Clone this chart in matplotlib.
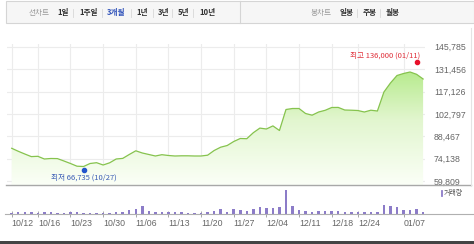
import matplotlib
matplotlib.use("Agg")
import matplotlib.pyplot as plt
from matplotlib.lines import Line2D
from matplotlib.patches import Rectangle
import numpy as np

# 종가 (3개월, 일봉)
close = [80800, 78900, 77150, 75480, 75670, 73950, 74270, 74200, 72670, 71070,
         69340, 69150, 71070, 71580, 70110, 71520, 73950, 74330, 76830, 79190,
         77790, 76830, 75870, 76700, 76190, 75870, 75990, 75990, 75870, 75870,
         76380, 79380, 81500, 82580, 85140, 87060, 86930, 90770, 93710, 93140,
         95120, 92180, 105610, 106250, 106250, 103050, 101970, 104010, 105100, 106890,
         106950, 105290, 105160, 104970, 104010, 105160, 104650, 116800, 122560, 127360,
         128640, 129600, 128130, 125120]

# 거래량 (상대값)
volume = [10, 20, 25, 20, 10, 20, 20, 10, 10, 20,
          20, 15, 15, 15, 10, 15, 20, 20, 40, 50,
          85, 35, 25, 25, 20, 20, 20, 15, 10, 15,
          20, 35, 55, 20, 55, 40, 35, 55, 70, 65,
          65, 70, 240, 85, 45, 30, 25, 30, 30, 30,
          30, 25, 20, 25, 20, 25, 20, 95, 80, 70,
          40, 40, 50, 25]

tick_pos = [0, 4, 9, 14, 19, 24, 29, 34, 39, 44, 49, 53, 60]
tick_labels = ['10/12', '10/16', '10/23', '10/30', '11/06', '11/13', '11/20',
               '11/27', '12/04', '12/11', '12/18', '12/24', '01/07']

y_ticks = [59809, 74138, 88467, 102797, 117126, 131456, 145785]

low_idx, low_val, low_text = 11, 66735, '최저 66,735 (10/27)'
high_idx, high_val, high_text = 62, 136000, '최고 136,000 (01/11)'

W, H = 474, 244
NUM_FONT = ['Liberation Sans Narrow', 'Liberation Sans', 'DejaVu Sans']
KR_FONT = ['Noto Sans CJK KR', 'DejaVu Sans']


def fx(x):
    return x / W


def fy(y):
    return 1 - y / H


fig = plt.figure(figsize=(W / 100, H / 100), dpi=100)
fig.patch.set_facecolor('white')

# ---- 상단 탭 바 ----
fig.patches.append(Rectangle((fx(6), fy(22.5)), fx(474 - 6), (21.5) / H,
                             transform=fig.transFigure, facecolor='#f6f6f6',
                             edgecolor='#d5d5d5', lw=0.8))
fig.lines.append(Line2D([fx(239.5)] * 2, [fy(1), fy(22.5)], transform=fig.transFigure,
                        color='#d5d5d5', lw=0.8))

tabs = [('선차트', 29, '#9a9a9a', 'normal'), ('1일', 57, '#333333', 'bold'),
        ('1주일', 79, '#333333', 'bold'), ('3개월', 107, '#3355bb', 'bold'),
        ('1년', 136, '#333333', 'bold'), ('3년', 158, '#333333', 'bold'),
        ('5년', 178, '#333333', 'bold'), ('10년', 199, '#333333', 'bold'),
        ('봉차트', 311, '#9a9a9a', 'normal'), ('일봉', 340, '#333333', 'bold'),
        ('주봉', 363, '#333333', 'bold'), ('월봉', 386, '#333333', 'bold')]
for txt, x, c, w in tabs:
    fig.text(fx(x), fy(12.5), txt, family=KR_FONT, fontsize=5.5, color=c,
             fontweight=w, ha='left', va='center')
for x in [73, 102, 131, 153, 172, 193, 357, 380]:
    fig.lines.append(Line2D([fx(x)] * 2, [fy(9), fy(16.5)], transform=fig.transFigure,
                            color='#d8d8d8', lw=0.6))

# ---- 가격 차트 ----
x = np.arange(len(close))
ax = fig.add_axes([fx(7), fy(185), (425 - 7) / W, (185 - 44) / H])
ax.set_xlim(-0.72, 63.29)
ax.set_ylim(57315, 147512)

grad = np.linspace(1, 0, 256).reshape(-1, 1)
cmap = matplotlib.colors.LinearSegmentedColormap.from_list(
    'g', ['#fbfff7', '#e2f6cf', '#a9e778'])
img = ax.imshow(grad[::-1], cmap=cmap, aspect='auto',
                extent=[-0.72, 63.29, 57315, 140000], origin='lower', zorder=1)
poly = ax.fill_between(x, close, 57315, color='none', lw=0)
img.set_clip_path(poly.get_paths()[0], transform=ax.transData)
ax.plot(x, close, color='#86c34e', lw=0.9, zorder=3)

ax.set_yticks(y_ticks)
ax.set_yticklabels([f'{v:,}' for v in y_ticks])
ax.yaxis.tick_right()
ax.set_xticks(tick_pos)
ax.set_xticklabels([])
ax.tick_params(length=0)
ax.tick_params(axis='y', pad=6.5, labelsize=6.3, labelcolor='#666666')
for lab in ax.get_yticklabels():
    lab.set_family(NUM_FONT)
ax.grid(True, color='#ececec', lw=0.8, zorder=0)
ax.set_axisbelow(True)
for s in ax.spines.values():
    s.set_visible(False)

# 최저 / 최고 표시
ax.plot([low_idx], [low_val], 'o', color='#2255cc', ms=3, zorder=4, clip_on=False)
ax.text(low_idx + 0.1, low_val - 4750, low_text, family=KR_FONT, fontsize=5.5,
        color='#3a5db5', ha='center', va='center')
ax.plot([high_idx], [high_val], 'o', color='#e8102a', ms=3, zorder=4, clip_on=False)
ax.text(high_idx + 0.5, high_val + 4300, high_text, family=KR_FONT, fontsize=5.5,
        color='#e0303a', ha='right', va='center')

fig.lines.append(Line2D([fx(6), fx(471)], [fy(185.3)] * 2, transform=fig.transFigure,
                        color='#a8a8a8', lw=1.0))
fig.lines.append(Line2D([fx(471)] * 2, [fy(28), fy(186)], transform=fig.transFigure,
                        color='#e4e4e4', lw=0.8))

# ---- 거래량 ----
vax = fig.add_axes([fx(7), fy(214.3), (425 - 7) / W, 25.3 / H])
vax.set_xlim(-0.72, 63.29)
vax.set_ylim(0, max(volume) * 25.3 / 24)
vax.bar(x, volume, width=0.38, color='#8c7cc8', zorder=2)
vax.set_yticks([])
vax.set_xticks(tick_pos)
vax.set_xticklabels(tick_labels)
vax.tick_params(axis='x', length=4, direction='inout', color='#999999', width=0.6,
                pad=1.5, labelsize=6.3, labelcolor='#666666')
for lab in vax.get_xticklabels():
    lab.set_family(NUM_FONT)
    lab.set_ha('left')
for s in vax.spines.values():
    s.set_visible(False)
fig.lines.append(Line2D([fx(5), fx(474)], [fy(214.3)] * 2, transform=fig.transFigure,
                        color='#b0b0b0', lw=0.8))

# 거래량 범례
fig.lines.append(Line2D([fx(441.7)] * 2, [fy(191), fy(196)], transform=fig.transFigure,
                        color='#8c7cc8', lw=1.3))
fig.text(fx(444), fy(193.5), '거래량', family=KR_FONT, fontsize=5, color='#555555',
         ha='left', va='center')

# 하단 바
fig.patches.append(Rectangle((0, 0), 1, 3.5 / H, transform=fig.transFigure,
                             facecolor='#444444', edgecolor='none'))

fig.savefig('out.png', dpi=100)
